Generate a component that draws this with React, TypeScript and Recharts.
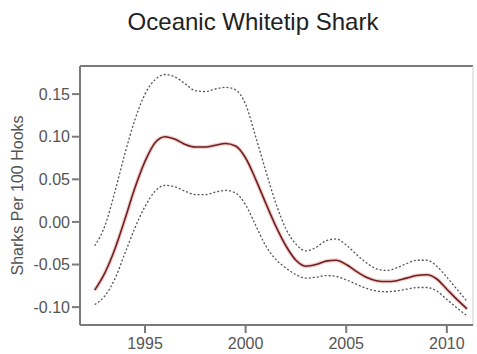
import { CartesianGrid, Line, LineChart, ReferenceLine, XAxis, YAxis } from 'recharts';

const YEARS = [
  1992.5, 1993, 1993.5, 1994, 1994.5, 1995, 1995.5, 1996, 1996.5, 1997, 1997.5, 1998, 1998.5, 1999, 1999.5, 2000,
  2000.5, 2001, 2001.5, 2002, 2002.5, 2003, 2003.5, 2004, 2004.5, 2005, 2005.5, 2006, 2006.5, 2007, 2007.5, 2008,
  2008.5, 2009, 2009.5, 2010, 2010.5, 2011,
];

const MEAN = [
  -0.08, -0.06, -0.032, 0.003, 0.04, 0.071, 0.093, 0.1, 0.097, 0.091, 0.088, 0.088, 0.09, 0.092, 0.089, 0.075,
  0.05, 0.022, -0.005, -0.028, -0.045, -0.052, -0.05, -0.046, -0.045, -0.05, -0.058, -0.065, -0.069, -0.07, -0.069,
  -0.066, -0.063, -0.062, -0.067, -0.079, -0.091, -0.102,
];

const UPPER = [
  -0.028, -0.005, 0.035, 0.08, 0.12, 0.15, 0.167, 0.173, 0.17, 0.162, 0.154, 0.153, 0.156, 0.158, 0.155, 0.138,
  0.1, 0.06, 0.022, -0.008, -0.026, -0.034, -0.03, -0.022, -0.02, -0.027, -0.038, -0.048, -0.055, -0.057, -0.054,
  -0.049, -0.045, -0.045, -0.052, -0.065, -0.079, -0.093,
];

const LOWER = [
  -0.097, -0.087, -0.067, -0.037, -0.007, 0.018, 0.036, 0.043, 0.041, 0.036, 0.032, 0.032, 0.035, 0.037, 0.034,
  0.02, -0.004, -0.028, -0.044, -0.054, -0.062, -0.066, -0.065, -0.063, -0.064, -0.068, -0.073, -0.078, -0.081,
  -0.082, -0.081, -0.079, -0.077, -0.077, -0.081, -0.091, -0.101, -0.11,
];

const X_TICKS = [1995, 2000, 2005, 2010];
const Y_TICKS = [-0.1, -0.05, 0, 0.05, 0.1, 0.15];
const X_DOMAIN: [number, number] = [1991.77, 2011.3];
const Y_DOMAIN: [number, number] = [-0.121, 0.183];

const FONT = '"Liberation Sans", Arial, sans-serif';
const AXIS_GREY = '#7a7a7a';
const TEXT_GREY = '#555';

const data = YEARS.map((year, i) => ({
  year,
  mean: MEAN[i],
  upper: UPPER[i],
  lower: LOWER[i],
}));

export default function App() {
  return (
    <div style={{ position: 'absolute', left: 0, top: 0, width: 477, height: 354, background: '#fff', fontFamily: FONT }}>
      <div
        style={{
          position: 'absolute',
          left: 0,
          width: 506,
          top: 8,
          textAlign: 'center',
          fontSize: 24,
          color: '#222',
          lineHeight: '28px',
        }}
      >
        Oceanic Whitetip Shark
      </div>
      <LineChart width={477} height={354} data={data} margin={{ top: 66, right: 4, bottom: 0, left: 0 }}>
        <CartesianGrid horizontal={false} vertical={false} />
        <XAxis
          dataKey="year"
          type="number"
          domain={X_DOMAIN}
          ticks={X_TICKS}
          allowDataOverflow
          height={29}
          tickSize={8}
          tickMargin={5}
          stroke={AXIS_GREY}
          strokeWidth={2}
          tick={{ fontSize: 16, fill: TEXT_GREY, fontFamily: FONT }}
        />
        <YAxis
          type="number"
          domain={Y_DOMAIN}
          ticks={Y_TICKS}
          allowDataOverflow
          width={80}
          tickSize={8}
          tickMargin={2}
          stroke={AXIS_GREY}
          strokeWidth={2}
          tickFormatter={(v: number) => v.toFixed(2)}
          tick={{ fontSize: 16, fill: TEXT_GREY, fontFamily: FONT }}
          label={{
            value: 'Sharks Per 100 Hooks',
            angle: -90,
            position: 'insideLeft',
            offset: 17,
            style: { fontSize: 16, fill: TEXT_GREY, fontFamily: FONT, textAnchor: 'middle' },
          }}
        />
        <ReferenceLine y={Y_DOMAIN[1]} stroke={AXIS_GREY} strokeWidth={2} />
        <ReferenceLine x={X_DOMAIN[1]} stroke="#cfcfcf" strokeWidth={1} />
        <Line
          type="monotone"
          dataKey="upper"
          stroke="#555"
          strokeWidth={1.3}
          strokeDasharray="2 2"
          dot={false}
          isAnimationActive={false}
        />
        <Line
          type="monotone"
          dataKey="lower"
          stroke="#555"
          strokeWidth={1.3}
          strokeDasharray="2 2"
          dot={false}
          isAnimationActive={false}
        />
        <Line
          type="monotone"
          dataKey="mean"
          stroke="#eba8a8"
          strokeWidth={4}
          strokeOpacity={0.55}
          dot={false}
          isAnimationActive={false}
        />
        <Line
          type="monotone"
          dataKey="mean"
          stroke="#6e2020"
          strokeWidth={1.6}
          dot={false}
          isAnimationActive={false}
        />
      </LineChart>
    </div>
  );
}
